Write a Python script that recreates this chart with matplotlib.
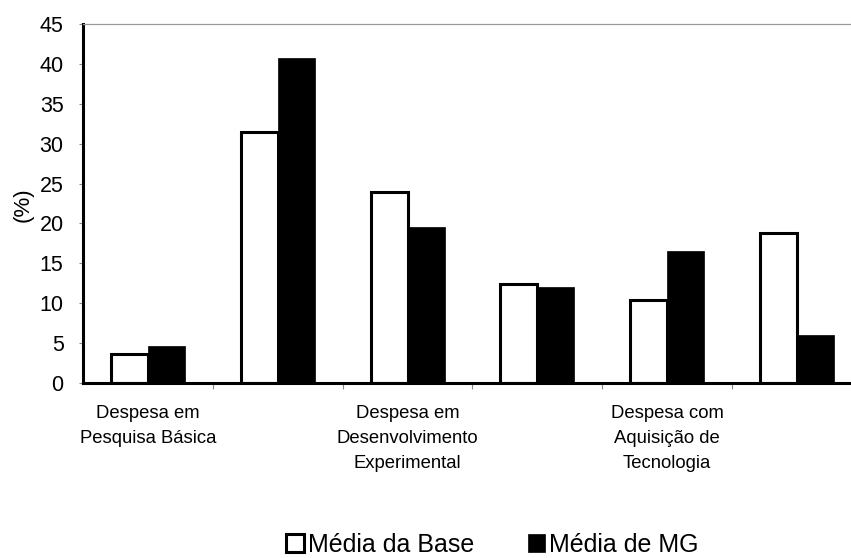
import numpy as np
import matplotlib
matplotlib.use("Agg")
import matplotlib.pyplot as plt

plt.rcParams['font.family'] = ['Liberation Sans', 'DejaVu Sans']

# Spending shares by type (%), six spending categories; only every other label is shown
category_labels = [
    "Despesa em\nPesquisa Básica",
    "",
    "Despesa em\nDesenvolvimento\nExperimental",
    "",
    "Despesa com\nAquisição de\nTecnologia",
    "",
]
media_base = [3.6, 31.4, 23.9, 12.4, 10.4, 18.8]
media_mg = [4.7, 40.8, 19.6, 12.0, 16.5, 6.0]
series_names = ["Média da Base", "Média de MG"]
y_ticks = [0, 5, 10, 15, 20, 25, 30, 35, 40, 45]

W, H = 851, 558
fig = plt.figure(figsize=(W / 100, H / 100), dpi=100)
ax = fig.add_axes([83 / W, 175 / H, 779 / W, 359 / H])

x = np.arange(len(media_base))
bw = 0.285
b1 = ax.bar(x - bw / 2, media_base, bw, facecolor="white", edgecolor="black",
            linewidth=2.2, zorder=2, label=series_names[0])
b2 = ax.bar(x + bw / 2, media_mg, bw, facecolor="black", edgecolor="black",
            linewidth=0.5, zorder=3, label=series_names[1])

ax.set_xlim(-0.5, len(media_base) - 0.5)
ax.set_ylim(0, 45)
ax.set_yticks(y_ticks)
ax.tick_params(axis="y", direction="out", length=3, width=0.8, color="#888888",
               labelsize=15.5, pad=11)

# tick marks between categories, labels under category centres
ax.set_xticks(x[:-1] + 0.5)
ax.set_xticklabels([])
ax.tick_params(axis="x", which="major", direction="out", length=4, width=0.8,
               color="#888888")
ax.set_xticks(x, minor=True)
ax.set_xticklabels(category_labels, minor=True, fontsize=13.3, linespacing=1.62,
                   va="top")
ax.tick_params(axis="x", which="minor", length=0, pad=16)

for side in ("left", "bottom"):
    ax.spines[side].set_linewidth(2.2)
    ax.spines[side].set_color("black")
ax.spines["top"].set_color("#999999")
ax.spines["top"].set_linewidth(0.9)
ax.spines["right"].set_visible(False)

ax.set_ylabel("(%)", fontsize=16)
ax.yaxis.set_label_coords(-0.064, 0.496)

fig.legend(handles=[b1, b2], labels=series_names, loc="center",
           bbox_to_anchor=(0.5787, 0.024), bbox_transform=fig.transFigure,
           ncol=2, frameon=False, fontsize=18, handlelength=0.7,
           handleheight=0.7, handletextpad=0.16, columnspacing=2.16,
           borderpad=0, borderaxespad=0)

fig.savefig("out.png", dpi=100)
